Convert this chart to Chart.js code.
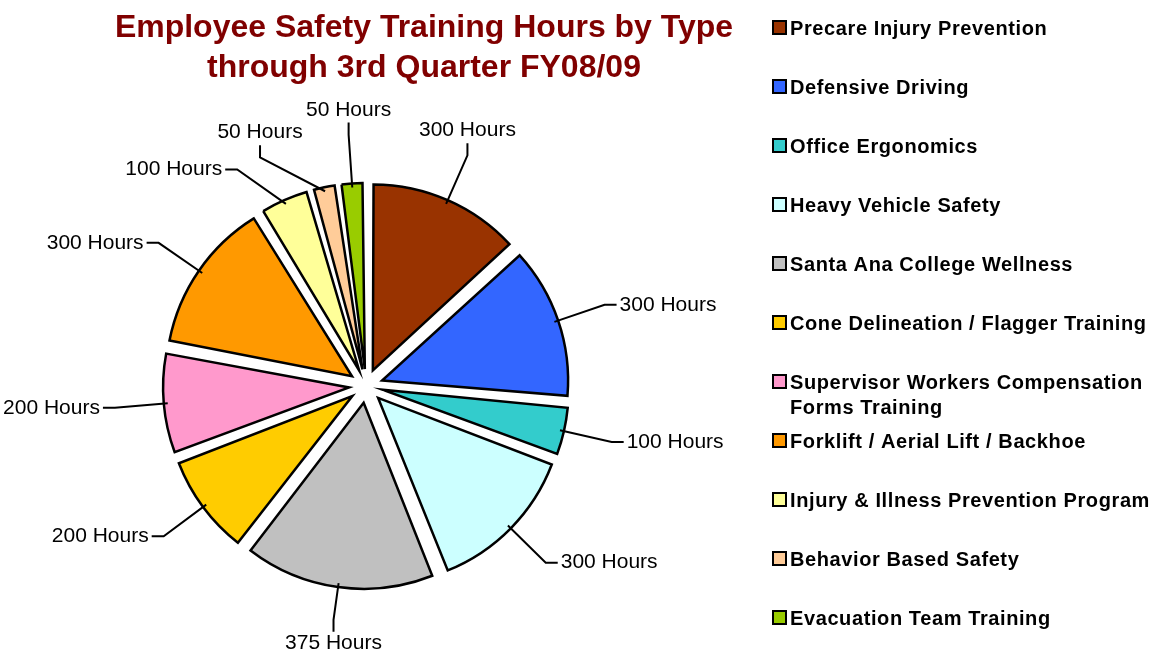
<!DOCTYPE html>
<html>
<head>
<meta charset="utf-8">
<script src="https://cdn.jsdelivr.net/npm/chart.js@4.4.0/dist/chart.umd.min.js"></script>
<style>
  html, body { margin: 0; padding: 0; background: #fff; overflow: hidden; }
  #wrap { width: 1159px; height: 656px; position: relative; }
</style>
</head>
<body>
<div id="wrap"><canvas id="chart"></canvas></div>
<script>
const categories = [
  'Precare Injury Prevention',
  'Defensive Driving',
  'Office Ergonomics',
  'Heavy Vehicle Safety',
  'Santa Ana College Wellness',
  'Cone Delineation / Flagger Training',
  ['Supervisor Workers Compensation', 'Forms Training'],
  'Forklift / Aerial Lift / Backhoe',
  'Injury & Illness Prevention Program',
  'Behavior Based Safety',
  'Evacuation Team Training'
];
const hours = [300, 300, 100, 300, 375, 200, 200, 300, 100, 50, 50];
const sliceColors = ['#993300', '#3366ff', '#33cccc', '#ccffff', '#c0c0c0', '#ffcc00',
                     '#ff99cc', '#ff9900', '#ffff99', '#ffcc99', '#99cc00'];
const titleLines = ['Employee Safety Training Hours by Type', 'through 3rd Quarter FY08/09'];

const R = 186;        // pie radius
const EXPLODE = 17;   // how far every slice is pulled out
const LABEL_DIST = 252;
const FONT = '"Liberation Sans", Arial, sans-serif';

// chart.js grows thin slices when offset is used, undo that so all slices keep R
const fixRadius = {
  id: 'fixRadius',
  beforeDatasetsDraw(chart) {
    chart.getDatasetMeta(0).data.forEach(a => {
      const fix = 1 - Math.sin(Math.min(Math.PI, a.circumference));
      a.outerRadius = R - EXPLODE * fix;
    });
  }
};

function labelGeo(cx, cy, ang, w, dist) {
  const c = Math.cos(ang), s = Math.sin(ang);
  const px = cx + c * dist, py = cy + s * dist;
  const stub = 12, h = 21;
  if (Math.abs(c) > 0.5) {
    const sx = px + (c > 0 ? stub : -stub);
    const tx = sx + (c > 0 ? 3 : -3);
    return { px, py, sx, sy: py, tx, ty: py, align: c > 0 ? 'left' : 'right', base: 'middle',
             box: c > 0 ? { x0: tx, x1: tx + w, y0: py - h / 2, y1: py + h / 2 }
                        : { x0: tx - w, x1: tx, y0: py - h / 2, y1: py + h / 2 } };
  }
  const sy = py + (s > 0 ? stub : -stub);
  if (s > 0) {
    return { px, py, sx: px, sy, tx: px, ty: sy + 1, align: 'center', base: 'top',
             box: { x0: px - w / 2, x1: px + w / 2, y0: sy, y1: sy + h } };
  }
  return { px, py, sx: px, sy, tx: px, ty: sy - 7, align: 'center', base: 'alphabetic',
           box: { x0: px - w / 2, x1: px + w / 2, y0: sy - h - 2, y1: sy } };
}

function overlap(a, b) {
  const m = 3;
  return !(a.x1 + m < b.x0 || b.x1 + m < a.x0 || a.y1 + m < b.y0 || b.y1 + m < a.y0);
}

const sliceLabels = {
  id: 'sliceLabels',
  afterDatasetsDraw(chart) {
    const ctx = chart.ctx;
    const arcs = chart.getDatasetMeta(0).data;
    ctx.save();
    ctx.font = '21px ' + FONT;
    const placed = [];
    for (let i = arcs.length - 1; i >= 0; i--) {
      const a = arcs[i];
      const text = hours[i] + ' Hours';
      const w = ctx.measureText(text).width;
      const mid = (a.startAngle + a.endAngle) / 2;
      let ang = mid, g;
      for (let k = 0; k < 60; k++) {
        let dist = LABEL_DIST;
        g = labelGeo(a.x, a.y, ang, w, dist);
        // keep the label inside the canvas
        while (g.box.y1 > chart.height - 3 && dist > R + EXPLODE + 20) {
          dist -= 1;
          g = labelGeo(a.x, a.y, ang, w, dist);
        }
        if (!placed.some(b => overlap(b, g.box))) break;
        ang -= Math.PI / 180;
      }
      placed.push(g.box);
      const er = R + EXPLODE - 4;
      ctx.strokeStyle = '#000';
      ctx.lineWidth = 2;
      ctx.lineJoin = 'miter';
      ctx.beginPath();
      ctx.moveTo(a.x + Math.cos(mid) * er, a.y + Math.sin(mid) * er);
      ctx.lineTo(g.px, g.py);
      ctx.lineTo(g.sx, g.sy);
      ctx.stroke();
      ctx.fillStyle = '#000';
      ctx.textAlign = g.align;
      ctx.textBaseline = g.base;
      ctx.fillText(text, g.tx, g.ty);
    }
    ctx.restore();
  }
};

const titleAndLegend = {
  id: 'titleAndLegend',
  afterDraw(chart) {
    const ctx = chart.ctx;
    ctx.save();
    ctx.fillStyle = '#800000';
    ctx.font = 'bold 32px ' + FONT;
    ctx.textAlign = 'center';
    ctx.textBaseline = 'middle';
    titleLines.forEach((t, i) => ctx.fillText(t, 424, 28 + i * 40));

    ctx.font = 'bold 20px ' + FONT;
    ctx.letterSpacing = '0.6px';
    ctx.textAlign = 'left';
    categories.forEach((lab, i) => {
      const y = 28 + i * 59;
      ctx.fillStyle = sliceColors[i];
      ctx.fillRect(773, y - 7, 13, 13);
      ctx.strokeStyle = '#000';
      ctx.lineWidth = 2;
      ctx.strokeRect(773, y - 7, 13, 13);
      ctx.fillStyle = '#000';
      const lines = Array.isArray(lab) ? lab : [lab];
      lines.forEach((l, j) => ctx.fillText(l, 790, y + 1 + j * 25));
    });
    ctx.restore();
  }
};

new Chart(document.getElementById('chart'), {
  type: 'pie',
  data: {
    labels: categories,
    datasets: [{
      data: hours,
      backgroundColor: sliceColors,
      borderColor: '#000',
      borderWidth: 2.5,
      borderJoinStyle: 'miter',
      offset: EXPLODE * 4,
      hoverOffset: 0,
      radius: R
    }]
  },
  options: {
    responsive: true,
    maintainAspectRatio: false,
    animation: false,
    events: [],
    layout: { padding: { left: 0, right: 427, top: 116, bottom: 0 } },
    plugins: {
      legend: { display: false },
      title: { display: false },
      tooltip: { enabled: false }
    }
  },
  plugins: [fixRadius, sliceLabels, titleAndLegend]
});
</script>
</body>
</html>
